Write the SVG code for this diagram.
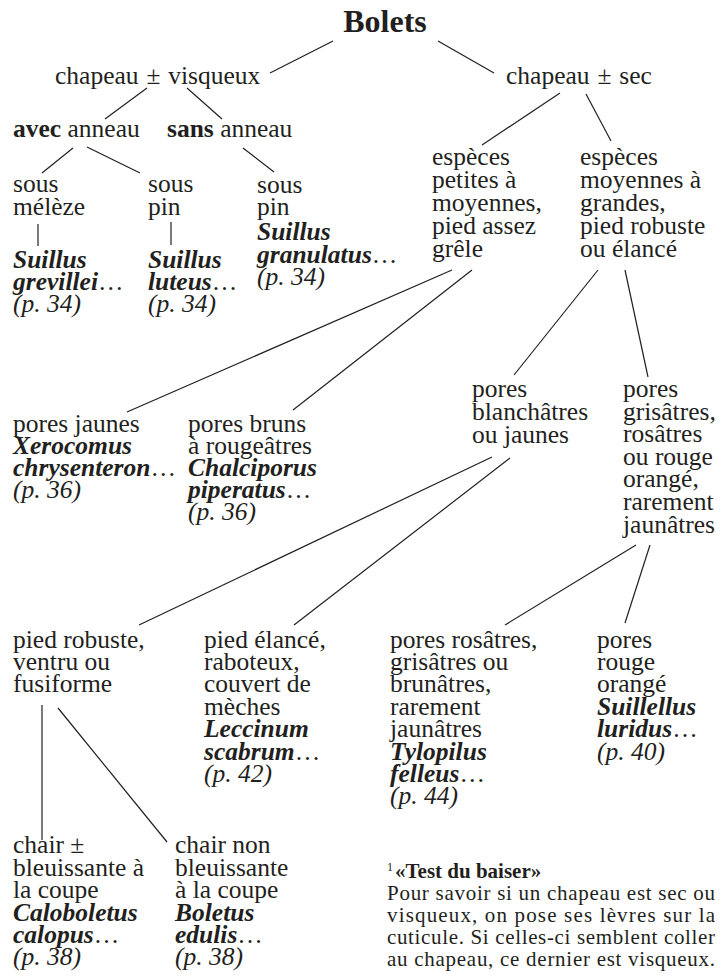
<svg xmlns="http://www.w3.org/2000/svg" width="721" height="980" viewBox="0 0 721 980">
<style>
text{font-family:"Liberation Serif","Times New Roman",serif;font-size:25.5px;fill:#231f20}
.b{font-weight:bold}
.bi{font-weight:bold;font-style:italic}
.i{font-style:italic}
.title{font-size:32px;font-weight:bold}
.fn{font-size:21px}
.ws{word-spacing:1.5px}
#connectors line{stroke:#231f20;stroke-width:1.2;fill:none}
</style>
<rect width="721" height="980" fill="#fff"/>
<g id="connectors">
<line x1="333" y1="41" x2="270" y2="73"/>
<line x1="438" y1="41" x2="494" y2="73"/>
<line x1="147" y1="88" x2="105" y2="119"/>
<line x1="187" y1="88" x2="222" y2="119"/>
<line x1="73" y1="148" x2="42" y2="173"/>
<line x1="87" y1="147" x2="140" y2="173"/>
<line x1="243" y1="148" x2="274" y2="172"/>
<line x1="38" y1="224" x2="38" y2="246"/>
<line x1="171" y1="222" x2="171" y2="245"/>
<line x1="560" y1="93" x2="482" y2="145"/>
<line x1="586" y1="94" x2="611" y2="141"/>
<line x1="452" y1="270" x2="127" y2="412"/>
<line x1="472" y1="270" x2="293" y2="410"/>
<line x1="598" y1="270" x2="514" y2="375"/>
<line x1="625" y1="270" x2="648" y2="377"/>
<line x1="492" y1="457" x2="139" y2="625"/>
<line x1="510" y1="458" x2="294" y2="625"/>
<line x1="636" y1="545" x2="505" y2="625"/>
<line x1="650" y1="545" x2="625" y2="623"/>
<line x1="42" y1="705" x2="42" y2="840"/>
<line x1="58" y1="708" x2="167" y2="842"/>
</g>
<g id="root"><text class="title" x="385" y="32" text-anchor="middle">Bolets</text></g>
<g id="n-visqueux"><text class="ws" x="55" y="84">chapeau ± visqueux</text></g>
<g id="n-sec"><text class="ws" x="506" y="84">chapeau ± sec</text></g>
<g id="n-avec"><text x="13" y="137"><tspan class="b">avec</tspan> anneau</text></g>
<g id="n-sans"><text x="167" y="137"><tspan class="b">sans</tspan> anneau</text></g>
<g id="n-meleze"><text x="13" y="192">sous<tspan x="13" y="215">mélèze</tspan></text></g>
<g id="n-grevillei"><text x="13" y="268"><tspan class="bi">Suillus</tspan><tspan x="13" y="290" class="bi">grevillei</tspan>…<tspan x="13" y="312" class="i">(p. 34)</tspan></text></g>
<g id="n-pin"><text x="148" y="192">sous<tspan x="148" y="215">pin</tspan></text></g>
<g id="n-luteus"><text x="148" y="268"><tspan class="bi">Suillus</tspan><tspan x="148" y="290" class="bi">luteus</tspan>…<tspan x="148" y="312" class="i">(p. 34)</tspan></text></g>
<g id="n-granulatus"><text x="257" y="193">sous<tspan x="257" y="215">pin</tspan><tspan x="257" y="240" class="bi">Suillus</tspan><tspan x="257" y="263" class="bi">granulatus</tspan>…<tspan x="257" y="285" class="i">(p. 34)</tspan></text></g>
<g id="n-petites"><text x="432" y="165">espèces<tspan x="432" y="188">petites à</tspan><tspan x="432" y="211">moyennes,</tspan><tspan x="432" y="234">pied assez</tspan><tspan x="432" y="257">grêle</tspan></text></g>
<g id="n-moyennes"><text x="580" y="165">espèces<tspan x="580" y="188">moyennes à</tspan><tspan x="580" y="211">grandes,</tspan><tspan x="580" y="234">pied robuste</tspan><tspan x="580" y="257">ou élancé</tspan></text></g>
<g id="n-xerocomus"><text x="13" y="432">pores jaunes<tspan x="13" y="454" class="bi">Xerocomus</tspan><tspan x="13" y="476" class="bi">chrysenteron</tspan>…<tspan x="13" y="498" class="i">(p. 36)</tspan></text></g>
<g id="n-chalciporus"><text x="188" y="432">pores bruns<tspan x="188" y="454">à rougeâtres</tspan><tspan x="188" y="476" class="bi">Chalciporus</tspan><tspan x="188" y="498" class="bi">piperatus</tspan>…<tspan x="188" y="520" class="i">(p. 36)</tspan></text></g>
<g id="n-blanchatres"><text x="472" y="397">pores<tspan x="472" y="420">blanchâtres</tspan><tspan x="472" y="443">ou jaunes</tspan></text></g>
<g id="n-grisatres"><text x="623" y="397">pores<tspan x="623" y="420">grisâtres,</tspan><tspan x="623" y="442">rosâtres</tspan><tspan x="623" y="465">ou rouge</tspan><tspan x="623" y="487">orangé,</tspan><tspan x="623" y="510">rarement</tspan><tspan x="623" y="533">jaunâtres</tspan></text></g>
<g id="n-robuste"><text x="13" y="648">pied robuste,<tspan x="13" y="670">ventru ou</tspan><tspan x="13" y="692">fusiforme</tspan></text></g>
<g id="n-leccinum"><text x="204" y="648">pied élancé,<tspan x="204" y="670">raboteux,</tspan><tspan x="204" y="692">couvert de</tspan><tspan x="204" y="715">mèches</tspan><tspan x="204" y="737" class="bi">Leccinum</tspan><tspan x="204" y="760" class="bi">scabrum</tspan>…<tspan x="204" y="782" class="i">(p. 42)</tspan></text></g>
<g id="n-tylopilus"><text x="390" y="648">pores rosâtres,<tspan x="390" y="670">grisâtres ou</tspan><tspan x="390" y="692">brunâtres,</tspan><tspan x="390" y="715">rarement</tspan><tspan x="390" y="737">jaunâtres</tspan><tspan x="390" y="760" class="bi">Tylopilus</tspan><tspan x="390" y="782" class="bi">felleus</tspan>…<tspan x="390" y="804" class="i">(p. 44)</tspan></text></g>
<g id="n-suillellus"><text x="597" y="648">pores<tspan x="597" y="670">rouge</tspan><tspan x="597" y="692">orangé</tspan><tspan x="597" y="715" class="bi">Suillellus</tspan><tspan x="597" y="737" class="bi">luridus</tspan>…<tspan x="597" y="760" class="i">(p. 40)</tspan></text></g>
<g id="n-caloboletus"><text x="13" y="853">chair ±<tspan x="13" y="876">bleuissante à</tspan><tspan x="13" y="898">la coupe</tspan><tspan x="13" y="921" class="bi">Caloboletus</tspan><tspan x="13" y="943" class="bi">calopus</tspan>…<tspan x="13" y="965" class="i">(p. 38)</tspan></text></g>
<g id="n-boletus"><text x="175" y="853">chair non<tspan x="175" y="876">bleuissante</tspan><tspan x="175" y="898">à la coupe</tspan><tspan x="175" y="921" class="bi">Boletus</tspan><tspan x="175" y="943" class="bi">edulis</tspan>…<tspan x="175" y="965" class="i">(p. 38)</tspan></text></g>
<g id="footnote">
<text class="fn" x="387" y="878"><tspan font-size="12" dy="-7">1</tspan><tspan dy="7" dx="2" class="b">«Test du baiser»</tspan></text>
<text class="fn" x="387" y="900" textLength="328" lengthAdjust="spacing">Pour savoir si un chapeau est sec ou</text>
<text class="fn" x="387" y="922" textLength="328" lengthAdjust="spacing">visqueux, on pose ses lèvres sur la</text>
<text class="fn" x="387" y="944" textLength="328" lengthAdjust="spacing">cuticule. Si celles-ci semblent coller</text>
<text class="fn" x="387" y="966" textLength="328" lengthAdjust="spacing">au chapeau, ce dernier est visqueux.</text>
</g>
</svg>
